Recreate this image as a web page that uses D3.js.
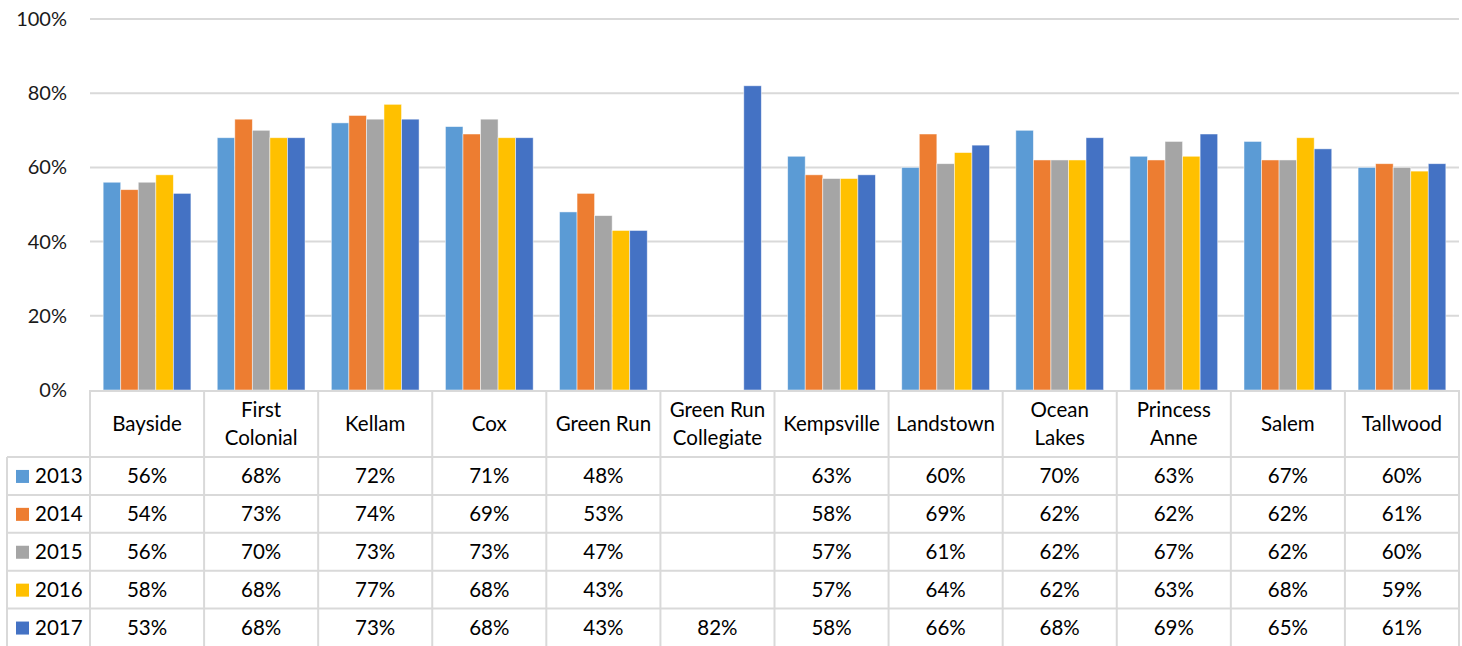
<!DOCTYPE html>
<html><head><meta charset="utf-8">
<script src="https://cdn.jsdelivr.net/npm/d3@7"></script>
<style>body{margin:0;background:#fff}svg{display:block}text{font-family:Lato,"Open Sans",sans-serif}</style>
</head><body><div id="chart"></div>
<script>
const categories = [["Bayside"],["First","Colonial"],["Kellam"],["Cox"],["Green Run"],["Green Run","Collegiate"],["Kempsville"],["Landstown"],["Ocean","Lakes"],["Princess","Anne"],["Salem"],["Tallwood"]];
const years = ["2013","2014","2015","2016","2017"];
const colors = ["#5B9BD5","#ED7D31","#A5A5A5","#FFC000","#4472C4"];
const v2013 = [56,68,72,71,48,null,63,60,70,63,67,60];
const v2014 = [54,73,74,69,53,null,58,69,62,62,62,61];
const v2015 = [56,70,73,73,47,null,57,61,62,67,62,60];
const v2016 = [58,68,77,68,43,null,57,64,62,63,68,59];
const v2017 = [53,68,73,68,43,82,58,66,68,69,65,61];
const yTicks = [0,20,40,60,80,100];
const series = [v2013,v2014,v2015,v2016,v2017];

(function(){
const W=1462,H=646;
const pL=90,pR=1459,pT=19,pB=390;
const headerBottom=457, rowH=(646+0.5-headerBottom)/5;
const svg=d3.select("#chart").append("svg").attr("width",W).attr("height",H);
const cats=categories.map((c,i)=>i);
const x=d3.scaleBand().domain(cats).range([pL,pR]);
const xi=d3.scaleBand().domain(years).range([0,x.bandwidth()]).paddingInner(0).paddingOuter(0.75);
const y=d3.scaleLinear().domain([0,100]).range([pB,pT]);
const grid="#d9d9d9";

svg.append("g").selectAll("line").data(yTicks.filter(t=>t>0)).join("line")
 .attr("x1",pL).attr("x2",pR).attr("y1",d=>y(d)).attr("y2",d=>y(d))
 .attr("stroke",grid).attr("stroke-width",2);
svg.append("g").selectAll("text").data(yTicks).join("text")
 .attr("x",67).attr("y",d=>y(d)).attr("dy","0.35em").attr("text-anchor","end")
 .attr("font-size",20).attr("fill","#1a1a1a").text(d=>d+"%");
years.forEach((yr,si)=>{
 svg.append("g").selectAll("rect").data(series[si].map((v,i)=>({v,i})).filter(d=>d.v!=null)).join("rect")
  .attr("x",d=>x(d.i)+xi(yr)).attr("width",xi.bandwidth())
  .attr("y",d=>y(d.v)).attr("height",d=>pB-y(d.v))
  .attr("fill",colors[si]).attr("stroke","rgba(255,255,255,0.6)").attr("stroke-width",0.8);
});
const tg=svg.append("g").attr("stroke",grid).attr("stroke-width",2).attr("fill","none");
tg.append("line").attr("x1",pL).attr("x2",pR).attr("y1",pB+1).attr("y2",pB+1);
for(let r=0;r<=4;r++){
 const yy=headerBottom+r*rowH;
 tg.append("line").attr("x1",7).attr("x2",pR).attr("y1",yy).attr("y2",yy);
}
tg.append("line").attr("x1",7).attr("x2",7).attr("y1",headerBottom).attr("y2",H);
cats.forEach(i=>{
 tg.append("line").attr("x1",x(i)).attr("x2",x(i)).attr("y1",pB).attr("y2",H);
});
tg.append("line").attr("x1",pR).attr("x2",pR).attr("y1",pB).attr("y2",H);
const hc=(pB+headerBottom)/2;
cats.forEach(i=>{
 const lines=categories[i];
 lines.forEach((ln,k)=>{
  svg.append("text").attr("x",x(i)+x.bandwidth()/2)
   .attr("y",hc+(k-(lines.length-1)/2)*28).attr("dy","0.35em").attr("text-anchor","middle")
   .attr("font-size",20.5).attr("fill","#000").text(ln);
 });
});
years.forEach((yr,si)=>{
 const cy=headerBottom+si*rowH+rowH/2;
 svg.append("rect").attr("x",16).attr("y",cy-6).attr("width",13).attr("height",13).attr("fill",colors[si]);
 svg.append("text").attr("x",35).attr("y",cy).attr("dy","0.35em").attr("font-size",20.5).attr("fill","#000").text(yr);
 cats.forEach(i=>{
  const v=series[si][i];
  if(v==null)return;
  svg.append("text").attr("x",x(i)+x.bandwidth()/2).attr("y",cy).attr("dy","0.35em").attr("text-anchor","middle")
   .attr("font-size",20.5).attr("fill","#000").text(v+"%");
 });
});
})();
</script></body></html>
